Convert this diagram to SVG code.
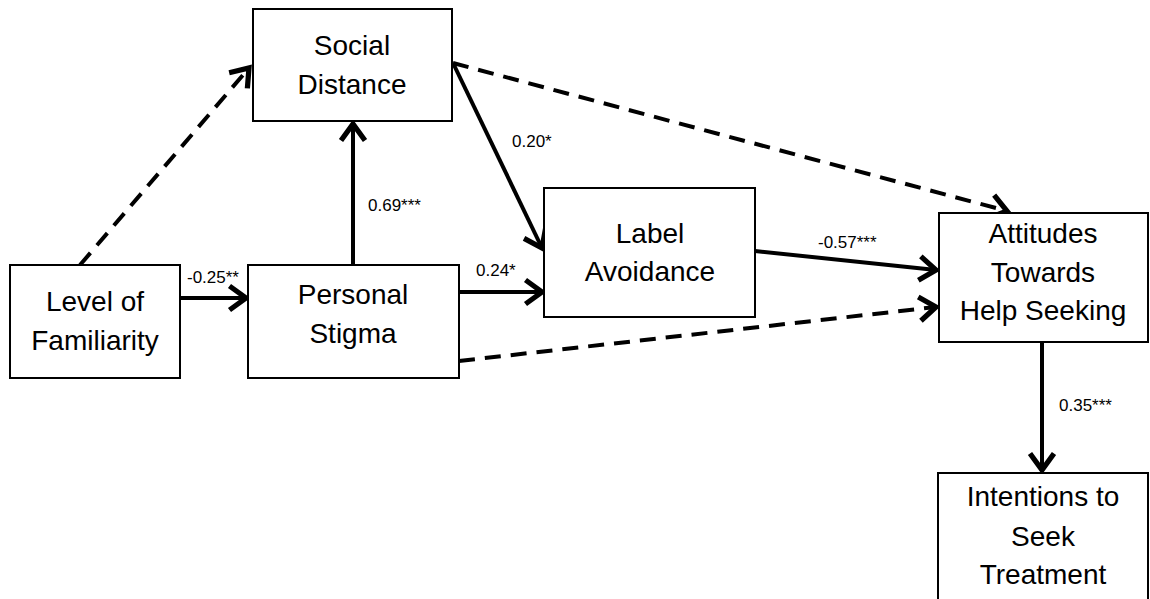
<svg xmlns="http://www.w3.org/2000/svg" width="1150" height="599" viewBox="0 0 1150 599">
<style>
.box{fill:#fff;stroke:#000;stroke-width:2}
.t{font-family:"Liberation Sans",Arial,sans-serif;font-size:28px;fill:#000;text-anchor:middle}
.lb{font-family:"Liberation Sans",Arial,sans-serif;font-size:17px;fill:#000}
.c{fill:none;stroke:#000;stroke-width:4}
.d{stroke-dasharray:16 10}
</style>
<defs>
<marker id="ah" markerUnits="userSpaceOnUse" markerWidth="30" markerHeight="30" viewBox="-16 -10 20 20" refX="0" refY="0" orient="auto">
<path d="M-11,-8 L0,0 L-11,8" fill="none" stroke="#000" stroke-width="3.5" stroke-linejoin="miter"/>
</marker>
</defs>
<rect width="1150" height="599" fill="#fff"/>
<g id="connectors">
<line class="c d" x1="80" y1="265" x2="249" y2="68" marker-end="url(#ah)"/>
<line class="c" x1="180" y1="298" x2="246" y2="298" marker-end="url(#ah)"/>
<line class="c" x1="353" y1="265" x2="353" y2="124" marker-end="url(#ah)"/>
<line class="c" x1="453" y1="63" x2="542" y2="248" marker-end="url(#ah)"/>
<line class="c d" x1="453" y1="63" x2="1007" y2="211" marker-end="url(#ah)"/>
<line class="c" x1="459" y1="292" x2="542" y2="292" marker-end="url(#ah)"/>
<line class="c" x1="755" y1="251" x2="936" y2="270" marker-end="url(#ah)"/>
<line class="c d" x1="459" y1="361" x2="936" y2="307" marker-end="url(#ah)"/>
<line class="c" x1="1042" y1="342" x2="1042" y2="470" marker-end="url(#ah)"/>
<text class="lb" x="187" y="283">-0.25**</text>
<text class="lb" x="368" y="211">0.69***</text>
<text class="lb" x="512" y="147">0.20*</text>
<text class="lb" x="476" y="276">0.24*</text>
<text class="lb" x="818" y="248">-0.57***</text>
<text class="lb" x="1059" y="411">0.35***</text>
</g>
<g id="social-distance">
<rect class="box" x="253" y="9" width="199" height="112"/>
<text class="t" x="352" y="55">Social</text>
<text class="t" x="352" y="94">Distance</text>
</g>
<g id="level-of-familiarity">
<rect class="box" x="10" y="265" width="170" height="113"/>
<text class="t" x="95" y="311">Level of</text>
<text class="t" x="95" y="350">Familiarity</text>
</g>
<g id="personal-stigma">
<rect class="box" x="248" y="265" width="211" height="113"/>
<text class="t" x="353" y="304">Personal</text>
<text class="t" x="353" y="343">Stigma</text>
</g>
<g id="label-avoidance">
<rect class="box" x="544" y="188" width="211" height="129"/>
<text class="t" x="650" y="243">Label</text>
<text class="t" x="650" y="281">Avoidance</text>
</g>
<g id="attitudes">
<rect class="box" x="939" y="213" width="209" height="129"/>
<text class="t" x="1043" y="243">Attitudes</text>
<text class="t" x="1043" y="282">Towards</text>
<text class="t" x="1043" y="320">Help Seeking</text>
</g>
<g id="intentions">
<rect class="box" x="938" y="473" width="210" height="140"/>
<text class="t" x="1043" y="506">Intentions to</text>
<text class="t" x="1043" y="546">Seek</text>
<text class="t" x="1043" y="584">Treatment</text>
</g>
</svg>
